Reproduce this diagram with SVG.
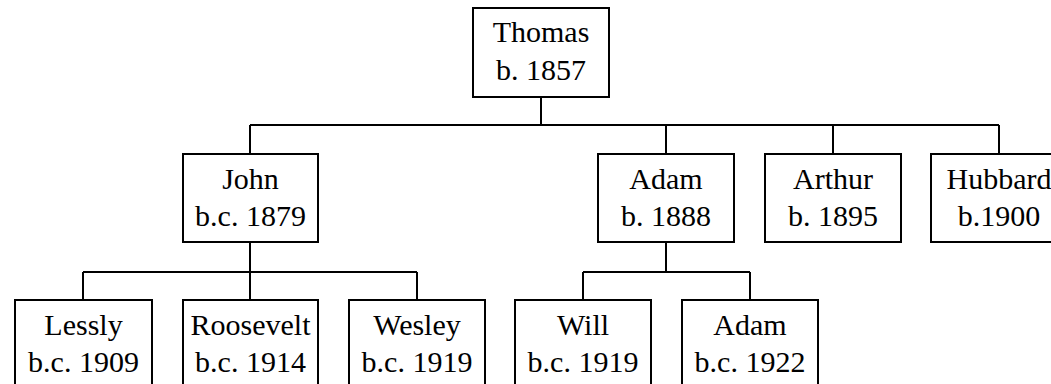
<svg xmlns="http://www.w3.org/2000/svg" width="1051" height="384" viewBox="0 0 1051 384">
<style>
.box{fill:#fff;stroke:#000;stroke-width:2}
.t{font-family:"Liberation Serif","Times New Roman",serif;font-size:30px;fill:#000;text-anchor:middle}
.c{fill:none;stroke:#000;stroke-width:2}
</style>
<rect width="1051" height="384" fill="#fff"/>
<g id="connectors">
<path class="c" d="M541,97V125M250,125H999M250,125V154M666,125V154M833,125V154M999,125V154"/>
<path class="c" d="M250,242V272M83,272H417M83,272V300M250,272V300M417,272V300"/>
<path class="c" d="M666,242V272M583,272H750M583,272V300M750,272V300"/>
</g>
<g id="thomas"><rect class="box" x="473" y="8" width="136" height="89"/><text class="t" x="541" y="42">Thomas</text><text class="t" x="541" y="80">b. 1857</text></g>
<g id="john"><rect class="box" x="183" y="154" width="135" height="88"/><text class="t" x="250.5" y="189">John</text><text class="t" x="250.5" y="226">b.c. 1879</text></g>
<g id="adam"><rect class="box" x="598" y="154" width="136" height="88"/><text class="t" x="666" y="189">Adam</text><text class="t" x="666" y="226">b. 1888</text></g>
<g id="arthur"><rect class="box" x="765" y="154" width="136" height="88"/><text class="t" x="833" y="189">Arthur</text><text class="t" x="833" y="226">b. 1895</text></g>
<g id="hubbard"><rect class="box" x="931" y="154" width="136" height="88"/><text class="t" x="999" y="189">Hubbard</text><text class="t" x="999" y="226">b.1900</text></g>
<g id="lessly"><rect class="box" x="15" y="300" width="137" height="88"/><text class="t" x="83.5" y="335">Lessly</text><text class="t" x="83.5" y="372">b.c. 1909</text></g>
<g id="roosevelt"><rect class="box" x="183" y="300" width="135" height="88"/><text class="t" x="250.5" y="335">Roosevelt</text><text class="t" x="250.5" y="372">b.c. 1914</text></g>
<g id="wesley"><rect class="box" x="349" y="300" width="136" height="88"/><text class="t" x="417" y="335">Wesley</text><text class="t" x="417" y="372">b.c. 1919</text></g>
<g id="will"><rect class="box" x="515" y="300" width="136" height="88"/><text class="t" x="583" y="335">Will</text><text class="t" x="583" y="372">b.c. 1919</text></g>
<g id="adam2"><rect class="box" x="682" y="300" width="136" height="88"/><text class="t" x="750" y="335">Adam</text><text class="t" x="750" y="372">b.c. 1922</text></g>
</svg>
